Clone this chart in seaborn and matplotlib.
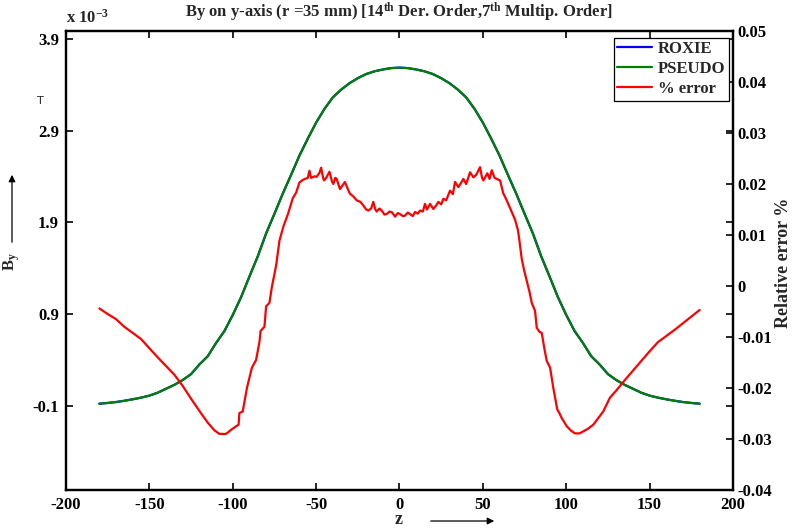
import numpy as np
import pandas as pd
import matplotlib
matplotlib.use("Agg")
import matplotlib.pyplot as plt
import seaborn as sns

# ---------------- data ----------------
z_field = [-180, -175, -170, -165, -160, -155, -150, -145, -140, -135, -130, -125,
           -120, -115, -110, -105, -100, -95, -90, -85, -80, -75, -70, -65, -60,
           -55, -50, -45, -40, -35, -30, -25, -20, -15, -10, -5, 0,
           5, 10, 15, 20, 25, 30, 35, 40, 45, 50, 55, 60, 65, 70, 75, 80, 85,
           90, 95, 100, 105, 110, 115, 120, 125, 130, 135, 140, 145, 150, 155,
           160, 165, 170, 175, 180]
half_field = [-0.078, -0.070, -0.060, -0.046, -0.030, -0.012, 0.010, 0.042, 0.085,
              0.128, 0.180, 0.245, 0.350, 0.440, 0.585, 0.715, 0.890, 1.085, 1.310,
              1.530, 1.780, 1.995, 2.215, 2.420, 2.630, 2.815, 2.990, 3.140, 3.265,
              3.350, 3.420, 3.475, 3.520, 3.550, 3.570, 3.585]
roxie = half_field + [3.590] + half_field[::-1]      # By [x1e-3 T]
pseudo = list(roxie)

z_err = [-180, -175, -170, -165, -160, -155, -150, -145, -140, -135, -130, -125,
         -120, -115, -111, -108, -104, -101, -98, -96.5, -96, -94, -91.5, -88.5,
         -86, -84, -83.3, -81, -80, -78, -76.6, -74, -72, -69.5, -67, -64, -62,
         -60, -58, -56.7, -55, -54, -53, -51, -49.7, -48, -47, -46, -45.3, -44,
         -42, -40.5, -39.7, -38.5, -37.7, -35.7, -34, -32.7, -31, -29.7, -27.5,
         -25.7, -23.5, -21.7, -20, -18.7, -17, -15.7, -14.5, -13.7, -12, -10.7,
         -9, -7.7, -6, -4.7, -3.5, -2.7, -1, 0.3, 2, 3.3, 5, 6.3, 8, 9.3, 11,
         12.3, 14, 15.3, 16.5, 18.3, 20.3, 22, 23.3, 25, 26.3, 28, 30.3, 32,
         33.3, 35.3, 36.5, 38.3, 40, 42.3, 44.3, 46, 48.3, 49.5, 50.3, 52.7, 54,
         55.3, 57, 58.3, 60.3, 61.2, 62.2, 64, 66.3, 68, 69.3, 71, 71.8, 73.3,
         74.8, 76.3, 78, 79.3, 81.3, 82.3, 84, 85.3, 87, 88.3, 90.3, 92.2, 94.6,
         96, 97.3, 99, 100.3, 103, 105.3, 108, 110.2, 113, 116.2, 119, 122.2,
         126.2, 130, 135, 140, 145, 150, 155, 160, 165, 170, 175, 180]
err = [-0.0044, -0.0055, -0.0065, -0.0080, -0.0092, -0.0104, -0.0122, -0.0140,
       -0.0157, -0.0174, -0.0196, -0.0221, -0.0245, -0.0268, -0.0283, -0.0290,
       -0.0290, -0.0282, -0.0275, -0.0272, -0.0249, -0.0246, -0.0200, -0.0160,
       -0.0145, -0.0110, -0.0088, -0.0080, -0.0040, -0.0033, -0.0003, 0.0040,
       0.0089, 0.0118, 0.0140, 0.0172, 0.0183, 0.0203, 0.0208, 0.0210, 0.0212,
       0.0226, 0.0212, 0.0215, 0.0214, 0.0222, 0.0232, 0.0215, 0.0207, 0.0212,
       0.0224, 0.0205, 0.0200, 0.0212, 0.0210, 0.0190, 0.0198, 0.0204, 0.0190,
       0.0181, 0.0175, 0.0168, 0.0165, 0.0158, 0.0150, 0.0148, 0.0152, 0.0165,
       0.0150, 0.0146, 0.0152, 0.0148, 0.0140, 0.0141, 0.0146, 0.0145, 0.0140,
       0.0136, 0.0143, 0.0141, 0.0137, 0.0138, 0.0144, 0.0141, 0.0137, 0.0145,
       0.0142, 0.0148, 0.0146, 0.0161, 0.0150, 0.0161, 0.0151, 0.0158, 0.0165,
       0.0160, 0.0171, 0.0168, 0.0187, 0.0180, 0.0204, 0.0194, 0.0200, 0.0210,
       0.0200, 0.0223, 0.0213, 0.0218, 0.0233, 0.0212, 0.0207, 0.0221, 0.0210,
       0.0227, 0.0212, 0.0210, 0.0207, 0.0195, 0.0182, 0.0170, 0.0153, 0.0140,
       0.0130, 0.0110, 0.0092, 0.0053, 0.0030, 0.0010, -0.0012, -0.0033,
       -0.0049, -0.0082, -0.0090, -0.0092, -0.0125, -0.0147, -0.0160, -0.0199,
       -0.0242, -0.0250, -0.0259, -0.0268, -0.0275, -0.0284, -0.0289, -0.0289,
       -0.0285, -0.0280, -0.0272, -0.0260, -0.0246, -0.0219, -0.0205, -0.0185,
       -0.0166, -0.0147, -0.0128, -0.0110, -0.0098, -0.0086, -0.0073, -0.0060,
       -0.0047]

x_ticks = [-200, -150, -100, -50, 0, 50, 100, 150, 200]
left_ticks = [-0.1, 0.9, 1.9, 2.9, 3.9]
right_ticks = [-0.04, -0.03, -0.02, -0.01, 0, 0.01, 0.02, 0.03, 0.04, 0.05]
right_labels = ["-0.04", "-0.03", "-0.02", "-0.01", "0", "0.01", "0.02", "0.03", "0.04", "0.05"]

# ---------------- style ----------------
sns.set_theme(style="white")
plt.rcParams['font.family'] = ['Liberation Serif', 'DejaVu Serif']
plt.rcParams['font.weight'] = 'bold'
plt.rcParams['mathtext.fontset'] = 'custom'
plt.rcParams['mathtext.rm'] = 'Liberation Serif:bold'
plt.rcParams['mathtext.bf'] = 'Liberation Serif:bold'
plt.rcParams['mathtext.it'] = 'Liberation Serif:bold:italic'

fig = plt.figure(figsize=(7.94, 5.30), dpi=100)
ax = fig.add_axes([66/794, 1-490/530, (733-66)/794, (490-31)/530])
ax2 = ax.twinx()

df_field = pd.DataFrame({"z": z_field, "ROXIE": roxie, "PSEUDO": pseudo})
df_err = pd.DataFrame({"z": z_err, "err": err})

sns.lineplot(data=df_field, x="z", y="ROXIE", ax=ax, color="#0000ff", lw=1.6,
             label="ROXIE", legend=False)
sns.lineplot(data=df_field, x="z", y="PSEUDO", ax=ax, color="#008000", lw=1.6,
             label="PSEUDO", legend=False)
sns.lineplot(data=df_err, x="z", y="err", ax=ax2, color="#ff0000", lw=1.6,
             label="% error", legend=False, sort=False)

fs = 12
ax.set_xlim(-200, 200)
ax.set_ylim(-1.02, 3.99)
ax2.set_ylim(-0.04, 0.05)
ax.set_xticks(x_ticks)
ax.set_xticklabels([str(t) for t in x_ticks], fontsize=fs, fontweight='bold')
ax.set_yticks(left_ticks)
ax.set_yticklabels([f"{t:.1f}" for t in left_ticks], fontsize=fs, fontweight='bold')
ax2.set_yticks(right_ticks)
ax2.set_yticklabels(right_labels, fontsize=fs, fontweight='bold')

ax.tick_params(direction='in', length=5, width=1.2, top=True, right=True,
               left=True, bottom=True, pad=5, colors='black')
ax2.tick_params(direction='in', length=5, width=1.2, right=True, pad=3, colors='black')
for a in (ax, ax2):
    for s in a.spines.values():
        s.set_color('black')
        s.set_linewidth(1.6)
ax.set_xlabel("")
ax.set_ylabel("")
ax2.set_ylabel("")

# title
fig.text(399/794, 1-12/530,
         r"By on y-axis (r =35 mm) [14$^{\mathbf{th}}$ Der. Order,7$^{\mathbf{th}}$ Multip. Order]",
         ha='center', va='center', fontsize=12, fontweight='bold')
# offset text
fig.text(66/794, 1-18/530, r"x 10$^{-3}$", ha='left', va='center', fontsize=12,
         fontweight='bold')
# unit
fig.text(40/794, 1-101/530, "T", ha='center', va='center', fontsize=8,
         fontweight='normal', family='DejaVu Sans')

# left y-label with arrow
fig.text(12/794, 1-262/530, r"B$_{\mathbf{y}}$", rotation=90, ha='center', va='center',
         fontsize=12, fontweight='bold')
fig.add_artist(matplotlib.patches.FancyArrowPatch(
    (12/794, 1-245/530), (12/794, 1-172/530), transform=fig.transFigure,
    arrowstyle='-|>', mutation_scale=10, lw=0.9, color='black'))

# x label with arrow
fig.text(399/794, 1-520/530, "z", ha='center', va='center', fontsize=13, fontweight='bold')
fig.add_artist(matplotlib.patches.FancyArrowPatch(
    (428/794, 1-521/530), (497/794, 1-521/530), transform=fig.transFigure,
    arrowstyle='-|>', mutation_scale=10, lw=0.9, color='black'))

# right label
fig.text(784/794, 1-263/530, "Relative error %", rotation=90, ha='center', va='center',
         fontsize=13, fontweight='bold')

# legend
h1, l1 = ax.get_legend_handles_labels()
h2, l2 = ax2.get_legend_handles_labels()
leg = ax2.legend(h1 + h2, l1 + l2, loc='upper right', bbox_to_anchor=(0.9985, 0.993),
                 frameon=True, fancybox=False, edgecolor='black', framealpha=1,
                 prop={'family': 'Liberation Serif', 'weight': 'bold', 'size': 12},
                 handlelength=2.1, handletextpad=0.35, borderpad=0.2, labelspacing=0.25,
                 borderaxespad=0.2)
leg.get_frame().set_linewidth(0.9)

fig.savefig("out.png", dpi=100)
